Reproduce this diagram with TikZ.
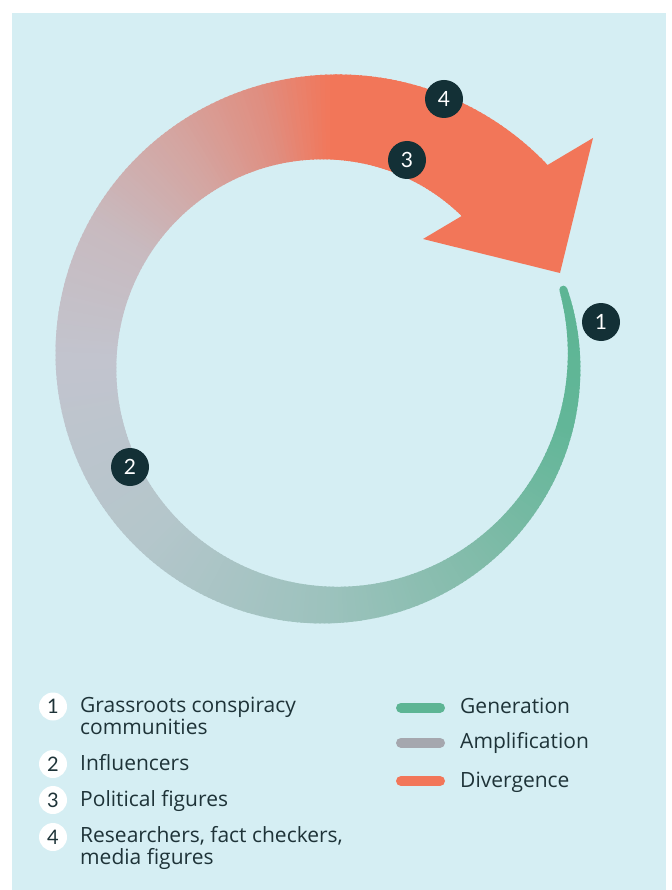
\documentclass[tikz,border=0pt]{standalone}
\usepackage{fontspec}
\setmainfont{Open Sans}
\newfontfamily\numfont{Lato}
\definecolor{bg}{HTML}{D5EEF3}
\definecolor{dark}{HTML}{133036}
\definecolor{txt}{HTML}{1E3338}
\definecolor{gen}{HTML}{5DB594}
\definecolor{amp}{HTML}{A5A7AE}
\definecolor{div}{HTML}{F27659}
\definecolor{s0}{HTML}{5DB594}
\definecolor{s1}{HTML}{62B698}
\definecolor{s2}{HTML}{7FBBA8}
\definecolor{s3}{HTML}{9CC2BD}
\definecolor{s4}{HTML}{B4C6CB}
\definecolor{s5}{HTML}{C2C4CE}
\definecolor{s6}{HTML}{C8BABF}
\definecolor{s7}{HTML}{D4A5A1}
\definecolor{s8}{HTML}{E08E80}
\definecolor{s9}{HTML}{F27659}
\tikzset{
  numdark/.style={circle,fill=dark,text=white,minimum size=38pt,inner sep=0pt,font=\numfont\fontsize{21}{21}\selectfont},
  numlight/.style={circle,fill=white,text=txt,minimum size=28pt,inner sep=0pt,font=\numfont\fontsize{20}{20}\selectfont},
  legtext/.style={anchor=base west,inner sep=0pt,text=txt,align=left,font=\fontsize{21}{22}\selectfont},
  swatch/.style={line width=10pt,line cap=round},
}
\begin{document}
\begin{tikzpicture}[x=1pt,y=-1pt]
\useasboundingbox (0,0) rectangle (671,890);
\fill[white] (0,0) rectangle (671,890);
\fill[bg] (12,13) rectangle (666,890);
% tapered gradient band
\begin{scope}[shift={(330,361)}]
\foreach \a/\b/\ca/\cb in {-17/15/s0/s1, 15/50/s1/s2, 50/90/s2/s3, 90/135/s3/s4, 135/180/s4/s5, 180/210/s5/s6, 210/235/s6/s7, 235/255/s7/s8, 255/270/s8/s9, 270/318/s9/s9}{
  \pgfmathtruncatemacro\bm{\b-1}
  \foreach \t in {\a,...,\bm}{
    \pgfmathtruncatemacro\p{round(100*(\t-\a)/(\b-\a))}
    \colorlet{cc}{\cb!\p!\ca}
    \pgfmathsetmacro\tb{\t+1.4}
    \pgfmathsetmacro\ia{244-(4+0.134*(\t+17))}
    \pgfmathsetmacro\oa{244+(4+0.134*(\t+17))}
    \pgfmathsetmacro\ib{244-(4+0.134*(\tb+17))}
    \pgfmathsetmacro\ob{244+(4+0.134*(\tb+17))}
    \fill[cc] (\t:\ia) -- (\t:\oa) -- (\tb:\ob) -- (\tb:\ib) -- cycle;
  }
}
\fill[s0] (-17:244) circle (4);
\end{scope}
% arrow head
\coordinate (barbA) at (593,138);
\coordinate (tip) at (560,273);
\coordinate (barbB) at (423,239);
\fill[div] (barbA) -- (tip) -- (barbB) -- cycle;
% numbered actors on the cycle
\node[numdark] (n1) at (601,322) {1};
\node[numdark] (n2) at (130,467) {2};
\node[numdark] (n3) at (407,160) {3};
\node[numdark] (n4) at (444,99) {4};
% legend: actors
\node[numlight] (l1) at (53,706.5) {1};
\node[numlight] (l2) at (53,764) {2};
\node[numlight] (l3) at (53,800) {3};
\node[numlight] (l4) at (53,837) {4};
\node[legtext] (t1) at (80,734.3) {Grassroots conspiracy\\communities};
\node[legtext] (t2) at (80,770) {Influencers};
\node[legtext] (t3) at (80,806) {Political figures};
\node[legtext] (t4) at (80,864.5) {Researchers, fact checkers,\\media figures};
% legend: phases
\coordinate (g1) at (401,707.7); \coordinate (g2) at (440,707.7);
\coordinate (a1) at (401,742.7); \coordinate (a2) at (440,742.7);
\coordinate (d1) at (401,781); \coordinate (d2) at (440,781);
\draw[swatch,gen] (g1) -- (g2);
\draw[swatch,amp] (a1) -- (a2);
\draw[swatch,div] (d1) -- (d2);
\node[legtext] (tg) at (460,713.5) {Generation};
\node[legtext] (ta) at (460,748.5) {Amplification};
\node[legtext] (td) at (460,787) {Divergence};
\end{tikzpicture}
\end{document}
